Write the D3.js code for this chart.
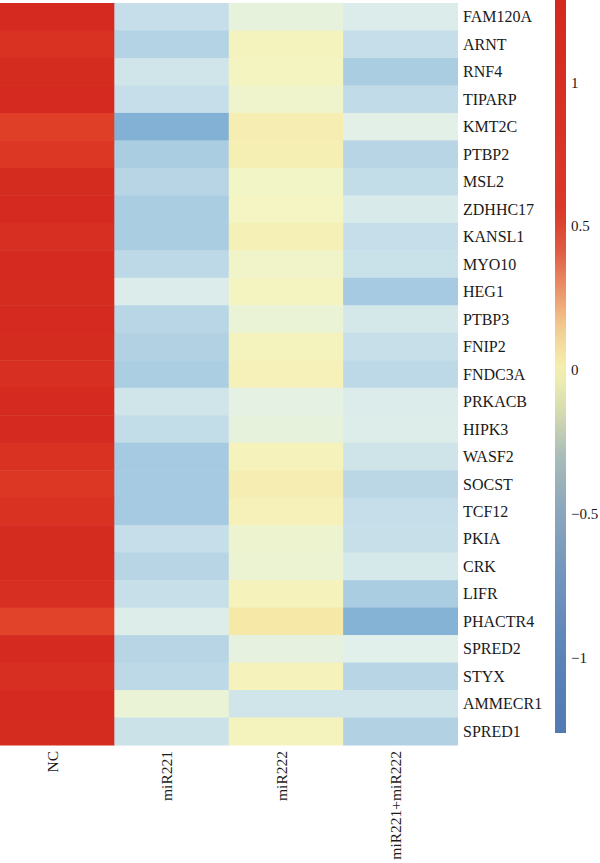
<!DOCTYPE html>
<html>
<head>
<meta charset="utf-8">
<script src="https://cdn.jsdelivr.net/npm/d3@7"></script>
<style>
  body { margin: 0; background: #fff; }
  text { font-family: "Liberation Serif", "DejaVu Serif", serif; fill: #1a1a1a; }
</style>
</head>
<body>
<svg id="chart" width="600" height="863"></svg>
<script>
const genes = ['FAM120A', 'ARNT', 'RNF4', 'TIPARP', 'KMT2C', 'PTBP2', 'MSL2', 'ZDHHC17', 'KANSL1',
    'MYO10', 'HEG1', 'PTBP3', 'FNIP2', 'FNDC3A', 'PRKACB', 'HIPK3', 'WASF2', 'SOCST', 'TCF12',
    'PKIA', 'CRK', 'LIFR', 'PHACTR4', 'SPRED2', 'STYX', 'AMMECR1', 'SPRED1'];
const groups = ['NC', 'miR221', 'miR222', 'miR221+miR222'];

const ncValues = [1.2, 1.12, 1.18, 1.2, 1.0, 1.08, 1.18, 1.2, 1.15, 1.2, 1.18, 1.2, 1.18, 1.15,
    1.2, 1.2, 1.12, 1.08, 1.12, 1.18, 1.18, 1.15, 0.98, 1.2, 1.15, 1.2, 1.18];
const mir221Values = [-0.25, -0.33, -0.2, -0.25, -0.56, -0.38, -0.32, -0.38, -0.38, -0.29, -0.15,
    -0.31, -0.34, -0.37, -0.2, -0.26, -0.4, -0.4, -0.4, -0.25, -0.32, -0.24, -0.14, -0.32, -0.29, -0.06, -0.22];
const mir222Values = [-0.08, 0.02, 0.01, -0.03, 0.07, 0.06, -0.01, 0, 0.05, -0.02, 0.01, -0.06, 0.02,
    0.04, -0.1, -0.08, 0.03, 0.07, 0.04, -0.04, -0.05, 0.03, 0.12, -0.09, 0.03, -0.2, 0.02];
const comboValues = [-0.15, -0.25, -0.38, -0.27, -0.11, -0.32, -0.26, -0.16, -0.25, -0.23, -0.4,
    -0.18, -0.24, -0.29, -0.15, -0.14, -0.21, -0.3, -0.25, -0.24, -0.17, -0.38, -0.55, -0.12, -0.32, -0.2, -0.34];

const colorTicks = [-1, -0.5, 0, 0.5, 1];

const series = [ncValues, mir221Values, mir222Values, comboValues];
const cells = [];
genes.forEach((g, i) => {
    groups.forEach((grp, j) => {
        cells.push({ gene: g, group: grp, value: series[j][i] });
    });
});

const svg = d3.select('#chart');

const x = d3.scaleBand().domain(groups).range([0, 457.5]);
const y = d3.scaleBand().domain(genes).range([3, 745]);

// colours of the tiles
const cellColor = d3.scaleLinear()
    .domain([-0.6, -0.4, -0.25, -0.12, 0, 0.12, 0.5, 1.0, 1.2])
    .range(['#7aabd2', '#a6cae1', '#c5dee9', '#e1f0ea', '#f4f5c2', '#f6e8a6', '#ef9e72', '#e03f27', '#d42a1f'])
    .clamp(true);

// colours of the legend bar
const barColor = d3.scaleLinear()
    .domain([-1.3, -1, -0.75, -0.5, -0.3, -0.15, 0, 0.15, 0.3, 0.42, 0.55, 1.3])
    .range(['#4f79b5', '#5b83b8', '#6f93bd', '#8aa5bd', '#a8bcb8', '#d5dbb0', '#f4f2b0', '#f3cb8f', '#e98a62', '#df5a40', '#d93a28', '#d4281f']);

svg.append('g')
    .selectAll('rect')
    .data(cells)
    .enter()
    .append('rect')
    .attr('x', d => x(d.group))
    .attr('y', d => y(d.gene))
    .attr('width', x.bandwidth() + 0.5)
    .attr('height', y.bandwidth() + 0.5)
    .attr('fill', d => cellColor(d.value));

// gene labels
svg.append('g')
    .selectAll('text')
    .data(genes)
    .enter()
    .append('text')
    .attr('x', 463)
    .attr('y', d => y(d) + y.bandwidth() / 2)
    .attr('dy', '0.35em')
    .attr('font-size', 16)
    .text(d => d);

// group labels, rotated
svg.append('g')
    .selectAll('text')
    .data(groups)
    .enter()
    .append('text')
    .attr('transform', d => `translate(${x(d) + x.bandwidth() / 2}, 751) rotate(-90)`)
    .attr('dy', '0.05em')
    .attr('text-anchor', 'end')
    .attr('font-size', 15.5)
    .text(d => d);

// colour bar
const legendY = d3.scaleLinear().domain([-1.262, 1.286]).range([733, 0]);
const grad = svg.append('defs').append('linearGradient')
    .attr('id', 'bar-grad')
    .attr('x1', 0).attr('y1', 1).attr('x2', 0).attr('y2', 0);
d3.range(0, 1.0001, 0.02).forEach(t => {
    const v = -1.262 + t * (1.286 + 1.262);
    grad.append('stop').attr('offset', t).attr('stop-color', barColor(v));
});
svg.append('rect')
    .attr('x', 555)
    .attr('y', legendY(1.286))
    .attr('width', 11)
    .attr('height', legendY(-1.262) - legendY(1.286))
    .attr('fill', 'url(#bar-grad)');

const legendAxis = svg.append('g')
    .attr('transform', 'translate(566,0)')
    .call(d3.axisRight(legendY).tickValues(colorTicks).tickSize(0).tickPadding(5).tickFormat(d3.format('~g')));
legendAxis.select('.domain').remove();
legendAxis.selectAll('text')
    .attr('font-size', 15)
    .attr('font-family', '"Liberation Serif", "DejaVu Serif", serif')
    .attr('fill', '#1a1a1a');
</script>
</body>
</html>
